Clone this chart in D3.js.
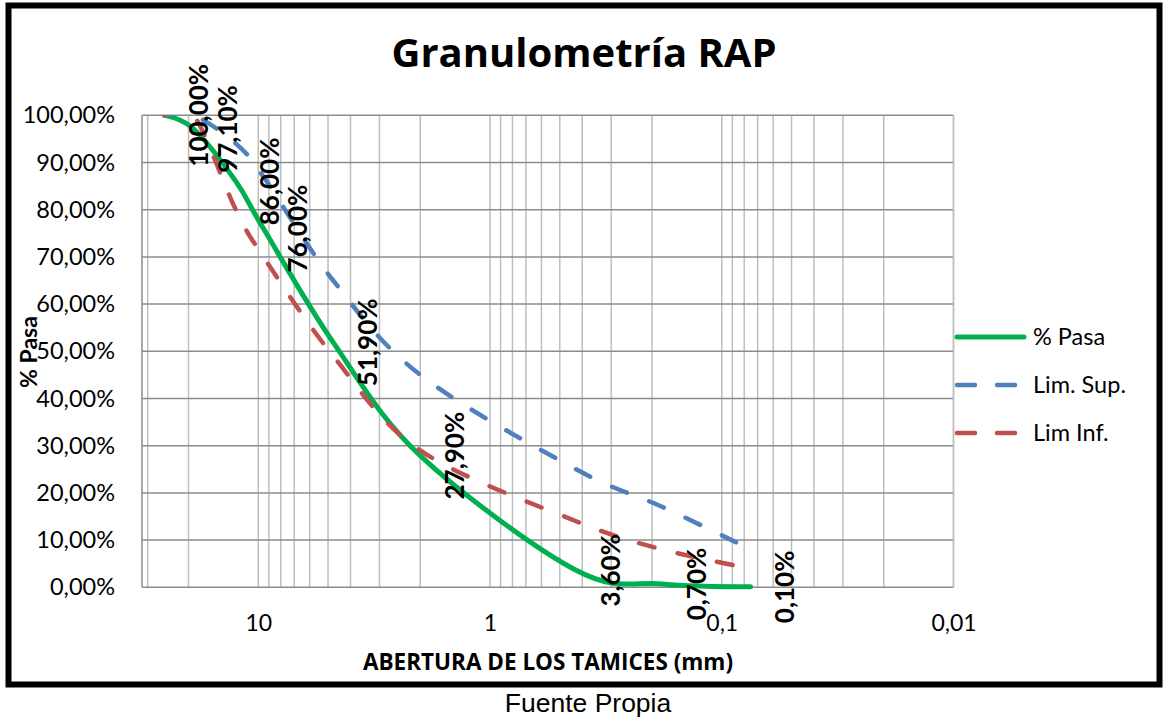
<!DOCTYPE html>
<html>
<head>
<meta charset="utf-8">
<script src="https://cdn.jsdelivr.net/npm/d3@7"></script>
<style>
  body { margin: 0; background: #fff; }
  text { font-family: Lato, "Open Sans", sans-serif; fill: #000; }
</style>
</head>
<body>
<svg width="1163" height="719"></svg>
<script>
// sieve openings (mm) and passing percentages
var sieves = [25.4, 19, 12.5, 9.5, 4.75, 2.0, 0.425, 0.18, 0.075];
var pasa = [100, 97.1, 86, 76, 51.9, 27.9, 3.6, 0.7, 0.1];
var limSup = [100, 100, 94, 87, 65, 45, 25, 17, 8];
var limInf = [100, 100, 80, 70, 49, 29, 14, 8, 4];

var xTickLabels = [10, 1, 0.1, 0.01];
var yTickValues = [0, 10, 20, 30, 40, 50, 60, 70, 80, 90, 100];
var seriesNames = ["% Pasa", "Lim. Sup.", "Lim Inf."];
var seriesColors = ["#00B050", "#4F81BD", "#C0504D"];

var es = d3.formatLocale({ decimal: ",", thousands: ".", grouping: [3], currency: ["", " €"] });
var fmtPct = es.format(".2%");
var fmtNum = function (v) { return es.format("~g")(v); };

var svg = d3.select("svg");
svg.append("rect").attr("width", 1163).attr("height", 719).attr("fill", "#fff");

// outer frame
svg.append("rect")
  .attr("x", 8.5).attr("y", 5.5)
  .attr("width", 1151).attr("height", 679)
  .attr("fill", "none").attr("stroke", "#000").attr("stroke-width", 6);

var pL = 142, pR = 953.5, pT = 115.3, pB = 587.3;

var x = d3.scaleLog().domain([31.75, 0.01]).range([pL, pR]);
var y = d3.scaleLinear().domain([0, 100]).range([pB, pT]);

svg.append("clipPath").attr("id", "plotclip")
  .append("rect").attr("x", pL).attr("y", pT).attr("width", pR - pL).attr("height", pB - pT + 4);

// vertical grid (log minor lines)
svg.append("g").selectAll("line")
  .data(x.ticks())
  .enter().append("line")
  .attr("x1", function (d) { return x(d); }).attr("x2", function (d) { return x(d); })
  .attr("y1", pT).attr("y2", pB)
  .attr("stroke", "#BEBEBE").attr("stroke-width", 1.5);

// horizontal grid
svg.append("g").selectAll("line")
  .data(yTickValues)
  .enter().append("line")
  .attr("x1", pL).attr("x2", pR)
  .attr("y1", function (d) { return y(d); }).attr("y2", function (d) { return y(d); })
  .attr("stroke", "#8C8C8C").attr("stroke-width", 1.5);

// axis lines
svg.append("line").attr("x1", pL).attr("x2", pL).attr("y1", pT).attr("y2", pB)
  .attr("stroke", "#8C8C8C").attr("stroke-width", 1.5);
svg.append("line").attr("x1", pR).attr("x2", pR).attr("y1", pT).attr("y2", pB)
  .attr("stroke", "#BEBEBE").attr("stroke-width", 1.5);

// y axis labels
var yAxis = d3.axisLeft(y).tickValues(yTickValues)
  .tickFormat(function (d) { return fmtPct(d / 100); })
  .tickSize(0).tickPadding(27);
var gy = svg.append("g").attr("transform", "translate(" + pL + ",0)").call(yAxis);
gy.select(".domain").remove();
gy.selectAll("text").style("font-size", "23.5px").style("font-family", "Lato").style("fill", "#000");

// x axis labels
var xAxis = d3.axisBottom(x).tickValues(xTickLabels)
  .tickFormat(fmtNum).tickSize(0).tickPadding(27);
var gx = svg.append("g").attr("transform", "translate(0," + pB + ")").call(xAxis);
gx.select(".domain").remove();
gx.selectAll("text").style("font-size", "23px").style("font-family", "Lato").style("fill", "#000");

// lines (smoothed like the spreadsheet curve, clipped to the plot area)
var line = d3.line()
  .x(function (d) { return x(d[0]); })
  .y(function (d) { return y(d[1]); })
  .curve(d3.curveCatmullRom.alpha(0));

var lines = svg.append("g").attr("clip-path", "url(#plotclip)");
var series = [pasa, limSup, limInf];
series.forEach(function (vals, i) {
  var pts = sieves.map(function (s, j) { return [s, vals[j]]; });
  var p = lines.append("path")
    .attr("d", line(pts))
    .attr("fill", "none")
    .attr("stroke", seriesColors[i])
    .attr("stroke-width", i === 0 ? 5 : 4.5)
    .attr("stroke-linecap", "round")
    .attr("stroke-linejoin", "round");
  if (i > 0) p.attr("stroke-dasharray", "16,24");
});

// data labels for % Pasa
svg.append("g").selectAll("text")
  .data(sieves.map(function (s, j) { return [s, pasa[j]]; }))
  .enter().append("text")
  .attr("transform", function (d) {
    return "translate(" + (x(d[0]) + 34) + "," + y(d[1]) + ") rotate(-90)";
  })
  .attr("text-anchor", "middle")
  .attr("dy", "0.36em")
  .style("font-size", "26px").style("font-weight", "bold")
  .text(function (d) { return fmtPct(d[1] / 100); });

// titles
svg.append("text").attr("x", 584).attr("y", 67).attr("text-anchor", "middle")
  .style("font-family", "Open Sans").style("font-size", "40px").style("font-weight", "bold")
  .text("Granulometría RAP");

svg.append("text").attr("x", 548).attr("y", 670).attr("text-anchor", "middle")
  .style("font-family", "Open Sans").style("font-size", "22.5px").style("font-weight", "bold")
  .text("ABERTURA DE LOS TAMICES (mm)");

svg.append("text").attr("transform", "translate(37,352) rotate(-90)").attr("text-anchor", "middle")
  .style("font-size", "23px").style("font-weight", "bold").text("% Pasa");

svg.append("text").attr("x", 588).attr("y", 712).attr("text-anchor", "middle")
  .style("font-family", "Liberation Sans, Arial, sans-serif").style("font-size", "26.5px")
  .text("Fuente Propia");

// legend
var legend = svg.append("g").selectAll("g")
  .data(seriesNames)
  .enter().append("g")
  .attr("transform", function (d, i) { return "translate(955," + (337 + i * 48) + ")"; });
legend.append("line")
  .attr("x1", 2).attr("x2", 69).attr("y1", 0).attr("y2", 0)
  .attr("stroke", function (d, i) { return seriesColors[i]; })
  .attr("stroke-width", function (d, i) { return i === 0 ? 5 : 4.5; })
  .attr("stroke-linecap", "round")
  .attr("stroke-dasharray", function (d, i) { return i === 0 ? null : "18,22"; });
legend.append("text")
  .attr("x", 78).attr("dy", "0.36em")
  .style("font-size", "23.5px")
  .text(function (d) { return d; });
</script>
</body>
</html>
